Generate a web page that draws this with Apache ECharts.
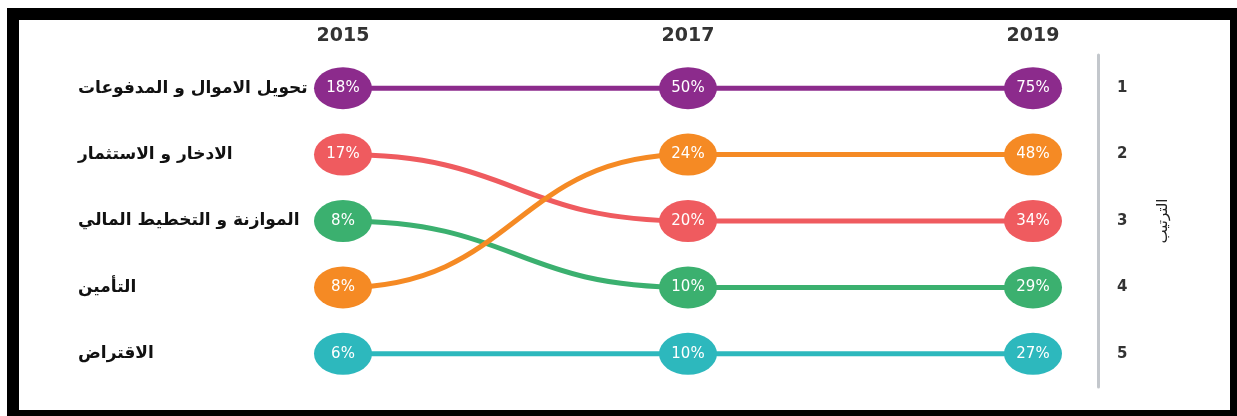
<!DOCTYPE html>
<html>
<head>
<meta charset="utf-8">
<script src="https://cdn.jsdelivr.net/npm/echarts@6/dist/echarts.min.js"></script>
<style>
  html, body { margin: 0; padding: 0; background: #fff; }
  #chart { width: 1237px; height: 416px; }
</style>
</head>
<body>
<div id="chart"></div>
<script>
const years = ['2015', '2017', '2019']
const rankLabels = ['1', '2', '3', '4', '5']
const categories = [
  'تحويل الاموال و المدفوعات',
  'الادخار و الاستثمار',
  'الموازنة و التخطيط المالي',
  'التأمين',
  'الاقتراض'
]

// rank per year (1 = top)
const rankTransfer = [1, 1, 1]
const rankSaving = [2, 3, 3]
const rankBudget = [3, 4, 4]
const rankInsurance = [4, 2, 2]
const rankBorrow = [5, 5, 5]

// share per year (%)
const shareTransfer = [18, 50, 75]
const shareSaving = [17, 20, 34]
const shareBudget = [8, 10, 29]
const shareInsurance = [8, 24, 48]
const shareBorrow = [6, 10, 27]

const groups = [
  { name: categories[0], ranks: rankTransfer, shares: shareTransfer, color: '#8c2b8c' },
  { name: categories[1], ranks: rankSaving, shares: shareSaving, color: '#ef5b5f' },
  { name: categories[2], ranks: rankBudget, shares: shareBudget, color: '#3bb06f' },
  { name: categories[3], ranks: rankInsurance, shares: shareInsurance, color: '#f58a24' },
  { name: categories[4], ranks: rankBorrow, shares: shareBorrow, color: '#2db8bd' }
]

const series = []

// S-shaped links between consecutive years
groups.forEach(g => {
  const segs = []
  for (let i = 0; i < years.length - 1; i++) {
    segs.push([i, g.ranks[i] - 1, i + 1, g.ranks[i + 1] - 1])
  }
  series.push({
    type: 'custom',
    name: g.name,
    z: 2,
    silent: true,
    encode: { x: [0, 2], y: [1, 3] },
    data: segs,
    renderItem: (params, api) => {
      const p0 = api.coord([api.value(0), api.value(1)])
      const p1 = api.coord([api.value(2), api.value(3)])
      const mx = (p0[0] + p1[0]) / 2
      return {
        type: 'bezierCurve',
        shape: {
          x1: p0[0], y1: p0[1], x2: p1[0], y2: p1[1],
          cpx1: mx, cpy1: p0[1], cpx2: mx, cpy2: p1[1]
        },
        style: { stroke: g.color, lineWidth: 5, fill: null }
      }
    }
  })
})

// ellipse badges with the share
groups.forEach(g => {
  series.push({
    type: 'scatter',
    name: g.name,
    z: 3,
    symbol: 'circle',
    symbolSize: [58, 42],
    itemStyle: { color: g.color, opacity: 1 },
    label: {
      show: true,
      position: 'inside',
      color: '#fff',
      fontSize: 15,
      fontFamily: 'DejaVu Sans',
      formatter: p => p.value[2] + '%'
    },
    data: years.map((y, i) => [i, g.ranks[i] - 1, g.shares[i]])
  })
})

const chart = echarts.init(document.getElementById('chart'))
chart.setOption({
  backgroundColor: '#fff',
  animation: false,
  grid: { left: 343, right: 204, top: 55, bottom: 29 },
  xAxis: {
    type: 'category',
    data: years,
    position: 'top',
    boundaryGap: false,
    axisLine: { show: false },
    axisTick: { show: false },
    splitLine: { show: false },
    axisLabel: {
      color: '#333',
      fontSize: 19,
      fontWeight: 'bold',
      fontFamily: 'DejaVu Sans',
      margin: 9
    }
  },
  yAxis: [
    {
      type: 'category',
      data: categories,
      inverse: true,
      position: 'left',
      axisLine: { show: false },
      axisTick: { show: false },
      axisLabel: {
        align: 'left',
        margin: 265,
        color: '#111',
        fontSize: 17,
        fontWeight: 'bold',
        fontFamily: 'DejaVu Sans'
      }
    },
    {
      type: 'category',
      data: rankLabels,
      inverse: true,
      position: 'right',
      offset: 65,
      name: 'الترتيب',
      nameLocation: 'middle',
      nameRotate: 90,
      nameGap: 58,
      nameTextStyle: { color: '#222', fontSize: 15, fontFamily: 'DejaVu Sans' },
      axisLine: { show: true, lineStyle: { color: '#c3c7cc', width: 3 } },
      axisTick: { show: false },
      axisLabel: {
        color: '#333',
        fontSize: 15,
        fontWeight: 'bold',
        fontFamily: 'DejaVu Sans',
        margin: 19
      }
    }
  ],
  graphic: [{
    type: 'rect',
    silent: true,
    z: 100,
    shape: { x: 13, y: 14, width: 1223, height: 402 },
    style: { fill: null, stroke: '#000', lineWidth: 12 }
  }],
  series: series
})
</script>
</body>
</html>
